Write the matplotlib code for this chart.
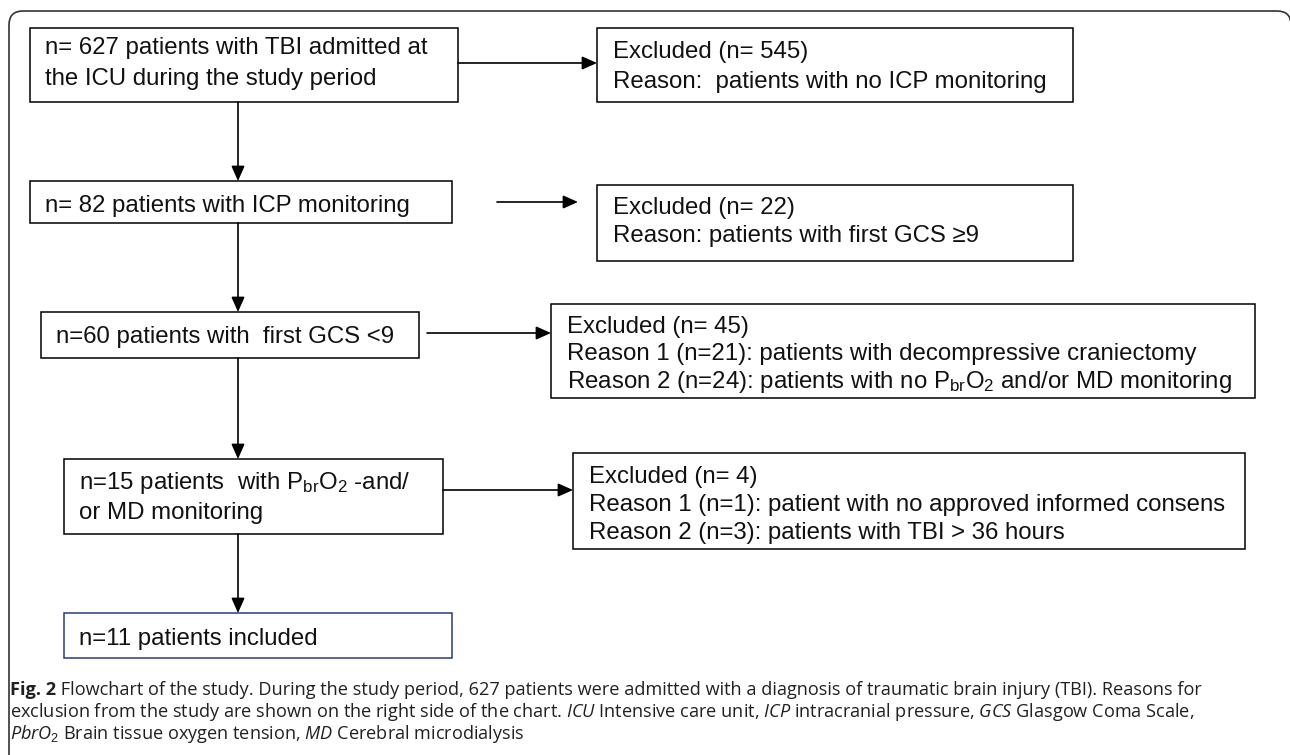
import matplotlib.pyplot as plt
from matplotlib.patches import Rectangle, FancyBboxPatch

plt.rcParams['font.family'] = ['Liberation Sans', 'DejaVu Sans']
plt.rcParams['mathtext.fontset'] = 'custom'
plt.rcParams['mathtext.rm'] = 'Liberation Sans'
plt.rcParams['mathtext.it'] = 'Open Sans:italic'
plt.rcParams['mathtext.bf'] = 'Open Sans:bold'

# flow counts
included_n = [627, 82, 60, 15, 11]
excluded_n = [545, 22, 45, 4]

# box texts
main_text = [
    ["n= %d patients with TBI admitted at" % included_n[0], "the ICU during the study period"],
    ["n= %d patients with ICP monitoring" % included_n[1]],
    ["n=%d patients with  first GCS <9" % included_n[2]],
    ["n=%d patients  with P$_{\\rm br}$O$_{\\rm 2}$ -and/" % included_n[3], "or MD monitoring"],
    ["n=%d patients included" % included_n[4]],
]
excluded_text = [
    ["Excluded (n= %d)" % excluded_n[0], "Reason:  patients with no ICP monitoring"],
    ["Excluded (n= %d)" % excluded_n[1], "Reason: patients with first GCS \u22659"],
    ["Excluded (n= %d)" % excluded_n[2], "Reason 1 (n=21): patients with decompressive craniectomy",
     "Reason 2 (n=24): patients with no P$_{\\rm br}$O$_{\\rm 2}$ and/or MD monitoring"],
    ["Excluded (n= %d)" % excluded_n[3], "Reason 1 (n=1): patient with no approved informed consens",
     "Reason 2 (n=3): patients with TBI > 36 hours"],
]
caption_label = "Fig. 2"
caption_lines = [
    r" Flowchart of the study. During the study period, 627 patients were admitted with a diagnosis of traumatic brain injury (TBI). Reasons for",
    r"exclusion from the study are shown on the right side of the chart. $\mathit{ICU}$ Intensive care unit, $\mathit{ICP}$ intracranial pressure, $\mathit{GCS}$ Glasgow Coma Scale,",
    r"$\mathit{PbrO_{2}}$ Brain tissue oxygen tension, $\mathit{MD}$ Cerebral microdialysis",
]

# layout in pixels (x0, y0, x1, y1), y grows downward
main_boxes = [(30, 28, 458, 102), (30, 181, 452, 223), (41, 312, 419, 358),
              (64, 459, 443, 534), (64, 613, 452, 658)]
main_base = [[54, 85], [212], [343], [489, 519], [645]]
excl_boxes = [(597, 28, 1073, 102), (597, 185, 1073, 261), (551, 304, 1255, 398),
              (573, 453, 1245, 549)]
excl_base = [[58, 88], [214, 242], [333, 360, 388], [483, 511, 539]]
h_arrows = [(458, 597, 63), (497, 578, 202), (427, 551, 333), (443, 573, 490)]
spine_x = 238

fig = plt.figure(figsize=(12.9, 7.55), dpi=100)
ax = fig.add_axes([0, 0, 1, 1])
ax.set_xlim(0, 1290)
ax.set_ylim(755, 0)
ax.axis('off')

# outer rounded frame
frame = FancyBboxPatch((9, 11), 1282, 760, boxstyle="round,pad=0,rounding_size=14",
                       fill=False, ec='#333333', lw=1.2)
ax.add_patch(frame)

fs = 17.3
for i, (x0, y0, x1, y1) in enumerate(main_boxes):
    ec = '#2b3a7c' if i == len(main_boxes) - 1 else 'black'
    ax.add_patch(Rectangle((x0, y0), x1 - x0, y1 - y0, fill=False, ec=ec, lw=1.1))
    for t, ty in zip(main_text[i], main_base[i]):
        ax.text(x0 + 15, ty, t, fontsize=fs, va='baseline', ha='left', color='#111111')

for i, (x0, y0, x1, y1) in enumerate(excl_boxes):
    ax.add_patch(Rectangle((x0, y0), x1 - x0, y1 - y0, fill=False, ec='black', lw=1.1))
    for t, ty in zip(excluded_text[i], excl_base[i]):
        ax.text(x0 + 16, ty, t, fontsize=fs, va='baseline', ha='left', color='#111111')

arrow_kw = dict(arrowstyle='-|>,head_length=0.9,head_width=0.4', color='black', lw=1.2,
                shrinkA=0, shrinkB=0, mutation_scale=10)
for xa, xb, y in h_arrows:
    ax.annotate('', xy=(xb, y), xytext=(xa, y), arrowprops=arrow_kw)
for i in range(len(main_boxes) - 1):
    ax.annotate('', xy=(spine_x, main_boxes[i + 1][1]), xytext=(spine_x, main_boxes[i][3]),
                arrowprops=arrow_kw)

# caption: bold label, then the rest of the first line right after it
cap_fs = 13.1
cap_kw = dict(fontsize=cap_fs, family='Open Sans', va='center', ha='left', color='#231f20')
lab = ax.text(10, 690, caption_label, fontweight='bold', **cap_kw)
fig.canvas.draw()
lab_end = ax.transData.inverted().transform(lab.get_window_extent().p1)[0]
ax.text(lab_end, 690, caption_lines[0], **cap_kw)
for k, t in enumerate(caption_lines[1:]):
    ax.text(10, 712 + k * 22, t, **cap_kw)

fig.savefig('out.png', dpi=100)
